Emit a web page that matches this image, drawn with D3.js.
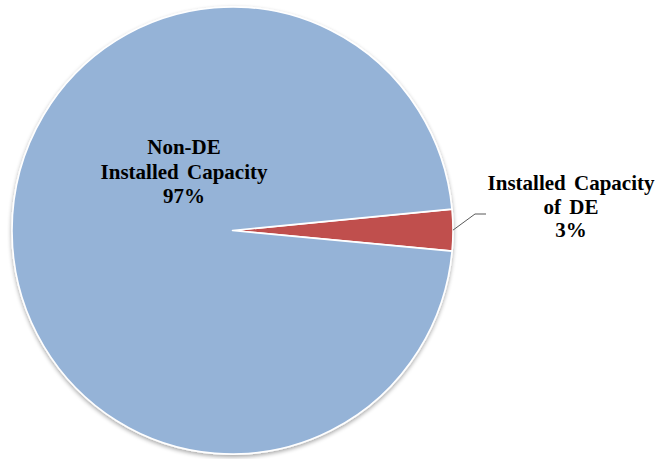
<!DOCTYPE html>
<html>
<head>
<meta charset="utf-8">
<script src="https://cdn.jsdelivr.net/npm/d3@7"></script>
<style>
body { margin: 0; background: #fff; }
</style>
</head>
<body>
<div id="viz"></div>
<script>
var categories = ["Installed Capacity of DE", "Non-DE Installed Capacity"];
var values = [3, 97];
var labelLines = [["Installed Capacity", "of DE", "3%"], ["Non-DE", "Installed Capacity", "97%"]];
var colors = ["#C0504D", "#95B3D7"];

var width = 657, height = 459;
var cx = 232.5, cy = 230.5;
var radius = 220.5, yStretch = 1.014;
var startDeg = 84.5;

var svg = d3.select("#viz").append("svg")
    .attr("width", width)
    .attr("height", height);

var defs = svg.append("defs");
var shadow = defs.append("filter").attr("id", "shadow")
    .attr("x", "-10%").attr("y", "-10%").attr("width", "120%").attr("height", "120%");
shadow.append("feGaussianBlur").attr("in", "SourceAlpha").attr("stdDeviation", 2.2);
shadow.append("feOffset").attr("dx", 0).attr("dy", 1.5).attr("result", "blur");
shadow.append("feComponentTransfer").append("feFuncA").attr("type", "linear").attr("slope", 0.35);
var merge = shadow.append("feMerge");
merge.append("feMergeNode");
merge.append("feMergeNode").attr("in", "SourceGraphic");

var pie = d3.pie()
    .sort(null)
    .value(function(d) { return d; })
    .startAngle(startDeg * Math.PI / 180)
    .endAngle(startDeg * Math.PI / 180 + 2 * Math.PI);

var arc = d3.arc().innerRadius(0).outerRadius(radius);

var g = svg.append("g")
    .attr("transform", "translate(" + cx + "," + cy + ") scale(1," + yStretch + ")");

g.append("g").attr("filter", "url(#shadow)")
    .selectAll("path")
    .data(pie(values))
    .enter().append("path")
    .attr("d", arc)
    .style("fill", function(d, i) { return colors[i]; })
    .style("stroke", "#fff")
    .style("stroke-width", 1.6)
    .style("stroke-linejoin", "round");

// leader line for the small slice
var de = pie(values)[0];
var mid = (de.startAngle + de.endAngle) / 2;
var p0 = [radius * Math.sin(mid) + cx, -radius * Math.cos(mid) * yStretch + cy];
svg.append("polyline")
    .attr("points", [p0, [475, 214], [486, 214]].map(function(p) { return p.join(","); }).join(" "))
    .style("fill", "none")
    .style("stroke", "#595959")
    .style("stroke-width", 1);

function addLabel(lines, x, y, spacing) {
    var t = svg.append("text")
        .attr("text-anchor", "middle")
        .attr("font-family", "'Liberation Serif', 'DejaVu Serif', serif")
        .attr("font-weight", "bold")
        .attr("font-size", "21px")
        .attr("fill", "#000")
        .style("word-spacing", "3px");
    lines.forEach(function(line, i) {
        t.append("tspan").attr("x", x).attr("y", y + i * spacing).text(line);
    });
}

addLabel(labelLines[0], 571, 190, 23.5);
addLabel(labelLines[1], 184, 154, 24.5);
</script>
</body>
</html>
